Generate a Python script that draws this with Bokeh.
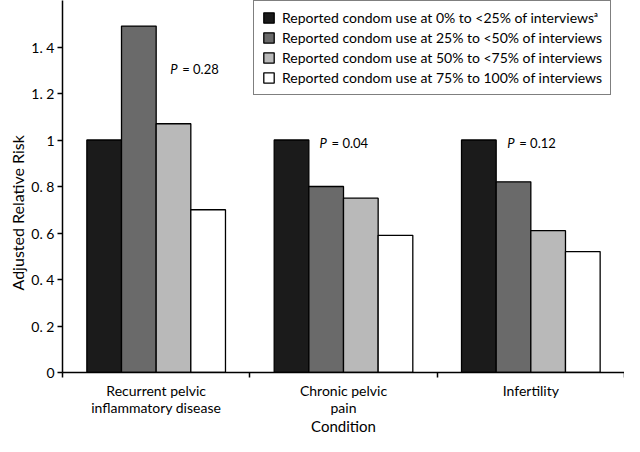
from bokeh.plotting import figure
from bokeh.layouts import column
from bokeh.models import (Range1d, FixedTicker, CustomJSTickFormatter, Legend,
                          LegendItem, Label, ColumnDataSource, Title)
from bokeh.core.properties import value
from bokeh.embed import file_html
from bokeh.resources import INLINE

# ---------------- data ----------------
conditions = ["Recurrent pelvic\ninflammatory disease", "Chronic pelvic\npain", "Infertility"]
series_labels = [
    "Reported condom use at 0% to <25% of interviews\u1d43",
    "Reported condom use at 25% to <50% of interviews",
    "Reported condom use at 50% to <75% of interviews",
    "Reported condom use at 75% to 100% of interviews",
]
use_0_25 = [1.0, 1.0, 1.0]
use_25_50 = [1.49, 0.80, 0.82]
use_50_75 = [1.07, 0.75, 0.61]
use_75_100 = [0.70, 0.59, 0.52]
p_values = ["0.28", "0.04", "0.12"]
y_ticks = [0, 0.2, 0.4, 0.6, 0.8, 1.0, 1.2, 1.4]
x_title = "Condition"
y_title = "Adjusted Relative Risk"

series = [use_0_25, use_25_50, use_50_75, use_75_100]

# ---------------- style ----------------
colors = ["#1b1b1b", "#6a6a6a", "#b9b9b9", "#ffffff"]
FONT = "Lato"
bar_w = 0.185
W = 624

xr = Range1d(0, 3)
p = figure(width=W, height=380, x_range=xr, y_range=Range1d(0, 1.6),
           output_backend="svg", toolbar_location=None,
           min_border_left=62, min_border_right=0, min_border_top=0, min_border_bottom=8)
p.outline_line_color = None
p.xgrid.grid_line_color = None
p.ygrid.grid_line_color = None

items = []
for j, vals in enumerate(series):
    xs = [i + 0.5 + (j - 1.5) * bar_w for i in range(len(conditions))]
    src = ColumnDataSource(dict(x=xs, top=vals))
    r = p.vbar(x="x", top="top", bottom=0, width=bar_w, source=src,
               fill_color=colors[j], line_color="black", line_width=1.3)
    items.append(LegendItem(label=series_labels[j], renderers=[r]))

# y axis
yax = p.yaxis[0]
yax.ticker = FixedTicker(ticks=y_ticks)
yax.formatter = CustomJSTickFormatter(code="""
if (Math.abs(tick - Math.round(tick)) < 1e-9) { return String(Math.round(tick)); }
return tick.toFixed(1).replace('.', '. ');
""")
yax.major_label_text_font = FONT
yax.major_label_text_font_size = "14px"
yax.major_label_text_color = "black"
yax.major_label_standoff = 3
yax.major_tick_out = 5
yax.major_tick_in = 0
yax.minor_tick_out = 0
yax.minor_tick_in = 0
yax.axis_line_width = 1.5
yax.major_tick_line_width = 1.5
yax.axis_line_color = "black"

p.add_layout(Title(text=y_title, align="left", offset=82, text_font=FONT,
                   text_font_size="16px", text_font_style="normal", text_color="black",
                   standoff=4), "left")

# x axis: ticks only at category boundaries
xax = p.xaxis[0]
xax.ticker = FixedTicker(ticks=[], minor_ticks=[0, 1, 2, 3])
xax.major_tick_out = 0
xax.major_tick_in = 0
xax.minor_tick_out = 5
xax.minor_tick_in = 0
xax.minor_tick_line_width = 1.5
xax.axis_line_width = 1.5
xax.axis_line_color = "black"

# P-value annotations
p_pos = [(0.575, 1.307), (1.372, 0.985), (2.374, 0.985)]
for (px, py), pv in zip(p_pos, p_values):
    p.add_layout(Label(x=px, y=py, text="P", text_font=FONT, text_font_size="13px",
                       text_font_style="italic", text_baseline="middle", text_color="black"))
    p.add_layout(Label(x=px, y=py, x_offset=12, text="= " + pv, text_font=FONT,
                       text_font_size="13px", text_baseline="middle", text_color="black"))

legend = Legend(items=items, location=(191, 277))
legend.border_line_color = "black"
legend.border_line_width = 1.5
legend.background_fill_color = "white"
legend.background_fill_alpha = 1.0
legend.label_text_font = FONT
legend.label_text_font_size = "14px"
legend.label_text_color = "black"
legend.glyph_width = 13
legend.glyph_height = 13
legend.label_height = 16
legend.label_standoff = 7
legend.spacing = 3
legend.padding = 8
legend.margin = 0
p.add_layout(legend, "center")

# lower strip with category names and x-axis title
q = figure(width=W, height=56, x_range=xr, y_range=Range1d(-56, 0),
           output_backend="svg", toolbar_location=None, x_axis_type=None, y_axis_type=None,
           min_border_left=62, min_border_right=0, min_border_top=0, min_border_bottom=0)
q.outline_line_color = None
q.xgrid.grid_line_color = None
q.ygrid.grid_line_color = None

lx, ly, lt = [], [], []
for i, c in enumerate(conditions):
    for k, line in enumerate(c.split("\n")):
        lx.append(i + 0.5)
        ly.append(-10 - 17 * k)
        lt.append(line)
q.text(x=lx, y=ly, text=lt, text_font=value(FONT), text_font_size="14px",
       text_align="center", text_baseline="middle", text_color="black")
q.text(x=[1.5], y=[-45], text=[x_title], text_font=value(FONT), text_font_size="15px",
       text_align="center", text_baseline="middle", text_color="black")

layout = column(p, q, spacing=0)
open("out.html", "w").write(file_html(layout, INLINE))
